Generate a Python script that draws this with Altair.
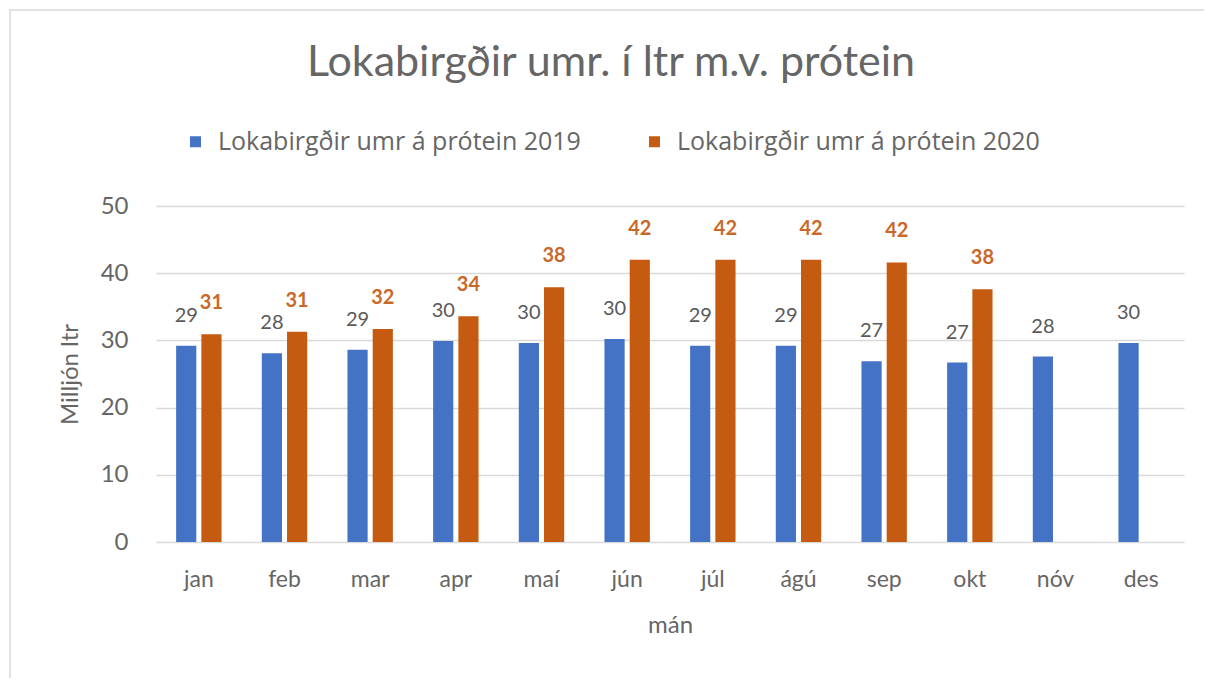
import altair as alt
import pandas as pd

months = ["jan", "feb", "mar", "apr", "maí", "jún", "júl", "ágú", "sep", "okt", "nóv", "des"]
series_2019 = [29.2, 28.1, 28.6, 29.9, 29.6, 30.2, 29.2, 29.2, 26.9, 26.7, 27.6, 29.6]
series_2020 = [30.9, 31.3, 31.7, 33.6, 37.9, 42.0, 42.0, 42.0, 41.6, 37.6]
name_2019 = "Lokabirgðir umr á prótein 2019"
name_2020 = "Lokabirgðir umr á prótein 2020"
y_ticks = [0, 10, 20, 30, 40, 50]

rows = []
for m, v in zip(months, series_2019):
    rows.append({"mán": m, "series": name_2019, "value": v})
for m, v in zip(months, series_2020):
    rows.append({"mán": m, "series": name_2020, "value": v})
df = pd.DataFrame(rows)

FONT = "Lato"
GREY = "#666666"
colors = ["#4472C4", "#C55A11"]

x_enc = alt.X("mán:N", sort=months,
              scale=alt.Scale(domain=months, paddingInner=0.47, paddingOuter=0.235),
              axis=alt.Axis(title="mán", labelAngle=0, ticks=False, domain=False, grid=False,
                            labelPadding=26, titlePadding=22, labelFontSize=23,
                            titleFontSize=24, labelColor=GREY, titleColor=GREY,
                            labelFont=FONT, titleFont=FONT, titleFontWeight="normal"))
xoff = alt.XOffset("series:N", scale=alt.Scale(domain=[name_2019, name_2020],
                                                paddingInner=0.2, paddingOuter=0))
y_enc = alt.Y("value:Q", scale=alt.Scale(domain=[0, 50]),
              axis=alt.Axis(title="Milljón ltr", values=y_ticks, ticks=False, domain=False,
                            labelPadding=28, titlePadding=18, labelFontSize=24,
                            titleFontSize=24, labelColor=GREY, titleColor=GREY,
                            gridColor="#d9d9d9", gridWidth=1.5,
                            labelFont=FONT, titleFont=FONT, titleFontWeight="normal"))

bars = alt.Chart(df).mark_bar().encode(
    x=x_enc, xOffset=xoff, y=y_enc,
    color=alt.Color("series:N", scale=alt.Scale(domain=[name_2019, name_2020], range=colors),
                    legend=alt.Legend(title=None, orient="none", direction="horizontal",
                                      legendX=27, legendY=-77, labelFontSize=25,
                                      labelColor=GREY, labelFont="Open Sans", symbolType="square",
                                      symbolSize=121, symbolStrokeWidth=0, columnPadding=61,
                                      labelOffset=10, labelLimit=0)),
)

labels_2019 = alt.Chart(df).transform_filter(alt.datum.series == name_2019).mark_text(
    baseline="middle", dy=-30, fontSize=20, color="#595959", font=FONT
).encode(x=alt.X("mán:N", sort=months), xOffset="series:N", y="value:Q",
         text=alt.Text("value:Q", format=".0f"))

labels_2020 = alt.Chart(df).transform_filter(alt.datum.series == name_2020).mark_text(
    baseline="middle", dy=-31, fontSize=20, color="#C8692A", font=FONT, fontWeight="bold"
).encode(x=alt.X("mán:N", sort=months), xOffset="series:N", y="value:Q",
         text=alt.Text("value:Q", format=".0f"))

border = alt.Chart(alt.Data(values=[{}])).mark_rect(
    fill=None, stroke="#d9d9d9", strokeWidth=1.5
).encode(x=alt.value(-146), x2=alt.value(1049), y=alt.value(-196), y2=alt.value(474))

chart = alt.layer(border, bars, labels_2019, labels_2020).properties(
    width=1028, height=336,
    background="white",
    autosize=alt.AutoSizeParams(type="none"),
    padding={"left": 148, "top": 198, "right": 20, "bottom": 136},
    title=alt.TitleParams("Lokabirgðir umr. í ltr m.v. prótein", fontSize=43,
                          font=FONT, fontWeight="normal", color=GREY,
                          anchor="middle", offset=0, dy=76, dx=-59),
).configure_view(stroke=None)

chart.save("out.html", embed_options={"renderer": "svg", "actions": False})
